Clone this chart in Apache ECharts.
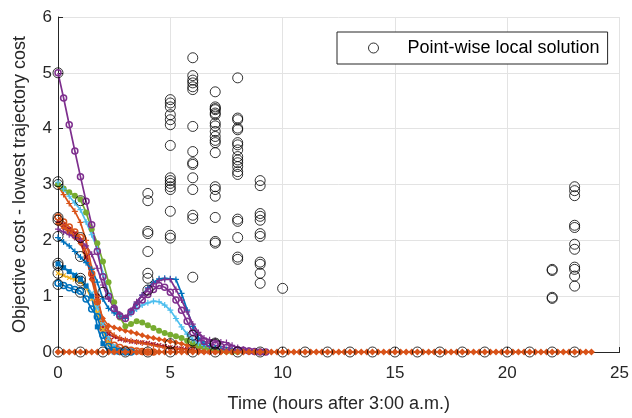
<!DOCTYPE html>
<html>
<head>
<meta charset="utf-8">
<script src="https://cdn.jsdelivr.net/npm/echarts@6/dist/echarts.min.js"></script>
<style>
  html, body { margin: 0; padding: 0; background: #fff; }
  #chart { width: 632px; height: 418px; }
</style>
</head>
<body>
<div id="chart"></div>
<script>
// Time grid of the trajectory optimisation (hours after 3:00 a.m.)
const hours = [
  0,0.25,0.5,0.75,1,1.25,1.5,1.75,2,2.25,2.5,2.75,3,3.25,3.5,3.75,4,4.25,4.5,4.75,5,5.25,5.5,5.75,
  6,6.25,6.5,6.75,7,7.25,7.5,7.75,8,8.25,8.5,8.75,9,9.25,9.5,9.75,10,10.25,10.5,10.75,11,11.25,11.5,11.75,
  12,12.25,12.5,12.75,13,13.25,13.5,13.75,14,14.25,14.5,14.75,15,15.25,15.5,15.75,16,16.25,16.5,16.75,17,17.25,17.5,17.75,
  18,18.25,18.5,18.75,19,19.25,19.5,19.75,20,20.25,20.5,20.75,21,21.25,21.5,21.75,22,22.25,22.5,22.75,23,23.25,23.5,23.75
];

// Cost gap of each trajectory run, one value per time step (runs end once they reach zero)
const runPurpleCircle = [5.0,4.55,4.07,3.6,3.14,2.7,2.28,1.8,1.35,1.0,0.78,0.65,0.6,0.72,0.83,0.93,1.03,1.12,1.19,1.16,1.07,0.93,0.75,0.55,0.35,0.25,0.19,0.15,0.12,0.1,0.08,0.06,0.04,0.03,0.02,0.01,0,0];
const runPurplePlus   = [2.2,2.15,2.1,2.05,2.0,1.9,1.75,1.5,1.2,0.95,0.8,0.68,0.62,0.75,0.9,1.02,1.13,1.22,1.28,1.3,1.3,1.12,0.93,0.72,0.5,0.35,0.25,0.22,0.2,0.18,0.17,0.12,0.08,0.05,0.03,0.02,0.01,0,0];
const runBlueHump     = [2.05,1.97,1.9,1.8,1.7,1.6,1.48,1.25,0.95,0.78,0.7,0.64,0.6,0.72,0.88,1.02,1.15,1.25,1.31,1.32,1.31,1.3,1.05,0.75,0.46,0.25,0.15,0.1,0.07,0.05,0.04,0.03,0.02,0.01,0,0];
const runCyanPlus     = [3.04,2.92,2.79,2.67,2.55,2.33,2.1,1.85,1.4,1.05,0.8,0.66,0.6,0.68,0.77,0.84,0.88,0.91,0.9,0.84,0.75,0.6,0.45,0.32,0.22,0.16,0.12,0.09,0.07,0.05,0.04,0.03,0.02,0.01,0,0];
const runGreenDot     = [3.0,2.93,2.86,2.8,2.73,2.5,2.2,1.95,1.62,1.25,0.89,0.62,0.46,0.5,0.55,0.53,0.48,0.43,0.38,0.34,0.31,0.28,0.25,0.2,0.15,0.11,0.08,0.05,0.03,0.02,0.01,0,0];
const runOrangeStar   = [2.98,2.82,2.66,2.52,2.32,2.0,1.5,1.0,0.55,0.38,0.3,0.25,0.22,0.2,0.18,0.16,0.14,0.12,0.1,0.08,0.07,0.06,0.05,0.04,0.03,0.02,0.01,0,0];
const runOrangeCircle = [2.42,2.33,2.24,2.15,2.05,1.8,1.4,0.9,0.42,0.2,0.12,0.08,0.05,0.03,0.02,0.01,0,0];
const runDarkRed      = [2.35,2.28,2.2,2.12,2.0,1.7,1.35,1.0,0.45,0.32,0.27,0.23,0.21,0.19,0.18,0.17,0.16,0.14,0.12,0.1,0.08,0.07,0.06,0.05,0.03,0.02,0.01,0,0];
const runOrangeDiam   = [2.3,2.22,2.14,2.05,1.95,1.7,1.3,0.9,0.6,0.47,0.44,0.41,0.38,0.36,0.33,0.3,0.27,0.25,0.23,0.21,0.19,0.17,0.15,0.12,0.1,0.08,0.07,0.06,0.05,0.04,0.03,0.02,0.01,0,0];
const runBlueCircle   = [1.23,1.19,1.15,1.12,1.09,0.95,0.77,0.63,0.3,0.1,0.03,0.01,0,0];
const runBlueSquare   = [1.58,1.51,1.44,1.37,1.3,1.18,1.0,0.45,0.15,0.03,0,0];
const runCyanCross    = [1.57,1.51,1.45,1.39,1.33,1.2,1.05,0.8,0.5,0.25,0.1,0.04,0.01,0,0];
const runYellowStar   = [1.41,1.37,1.33,1.3,1.26,1.15,0.95,0.7,0.4,0.15,0.05,0.01,0,0];
const runSettled = [
  0,0,0,0,0,0,0,0,0,0,0,0,0,0,0,0,0,0,0,0,0,0,0,0,
  0,0,0,0,0,0,0,0,0,0,0,0,0,0,0,0,0,0,0,0,0,0,0,0,
  0,0,0,0,0,0,0,0,0,0,0,0,0,0,0,0,0,0,0,0,0,0,0,0,
  0,0,0,0,0,0,0,0,0,0,0,0,0,0,0,0,0,0,0,0,0,0,0,0
];

// Point-wise local solutions: start hour and the cost gaps found there
const solutionHours = [0,1,2,3,4,5,6,7,8,9,10,11,12,13,14,15,16,17,18,19,20,21,22,23];
const solutionCosts = [
  [0,5.0,3.05,3.0,2.41,2.36,2.07,1.59,1.55,1.41,1.21],
  [0,2.71,2.05,1.71,1.32,1.27,1.07],
  [0,1.07],
  [0],
  [0,2.84,2.71,2.16,2.12,1.8,1.41,1.32,1.11],
  [0,0.15,4.52,4.46,4.39,4.25,4.16,4.07,3.7,3.12,3.07,3.02,2.96,2.91,2.52,2.09,2.04],
  [0,0.2,0.3,1.34,5.27,4.95,4.87,4.82,4.75,4.7,4.04,3.59,3.39,3.36,3.12,2.91,2.45,2.39],
  [0,0.14,0.16,4.66,4.39,4.36,4.34,4.28,4.25,4.1,4.05,3.95,3.86,3.79,3.75,3.57,2.96,2.91,2.79,2.41,1.98,1.95],
  [0,4.91,4.19,4.16,4.01,3.98,3.75,3.71,3.62,3.5,3.44,3.39,3.32,3.23,3.18,2.38,2.34,2.05,1.7,1.66],
  [0,3.07,2.98,2.48,2.43,2.36,2.12,2.07,1.61,1.57,1.41,1.23],
  [0,1.14],
  [0],[0],[0],[0],[0],[0],[0],[0],[0],[0],[0],
  [0,1.48,1.46,0.98,0.96],
  [0,2.96,2.89,2.8,2.27,2.23,1.93,1.84,1.52,1.48,1.36,1.18]
];

const legendName = 'Point-wise local solution';
const FONT = '"Liberation Sans", Arial, Helvetica, sans-serif';
const AX = '#262626';

const PLUS = 'path://M4,0H6V4H10V6H6V10H4V6H0V4H4Z';

function pairs(values) {
  return values.map((v, i) => [hours[i], v]);
}

function run(values, color, symbol, opts) {
  opts = opts || {};
  const hollow = symbol === 'hollow';
  return {
    type: 'line',
    data: pairs(values),
    symbol: hollow ? 'circle' : symbol,
    symbolSize: opts.size || 5,
    symbolRotate: opts.rotate || 0,
    showSymbol: true,
    showAllSymbol: true,
    silent: true,
    animation: false,
    lineStyle: { color: color, width: 1.7, type: opts.dash ? 'dashed' : 'solid' },
    itemStyle: hollow
      ? { color: 'rgba(0,0,0,0)', borderColor: color, borderWidth: 1.5 }
      : { color: color, borderWidth: 0 },
    z: opts.z || 2
  };
}

const scatterData = [];
solutionHours.forEach((h, i) => {
  solutionCosts[i].forEach(c => scatterData.push([h, c]));
});

const chart = echarts.init(document.getElementById('chart'), null, { renderer: 'canvas' });

chart.setOption({
  animation: false,
  backgroundColor: '#fff',
  textStyle: { fontFamily: FONT },
  grid: { left: 58, right: 11, top: 17, bottom: 65, containLabel: false },
  legend: {
    left: 337,
    top: 32,
    padding: [7, 8, 7, 31],
    itemWidth: 58,
    itemHeight: 10,
    borderColor: AX,
    borderWidth: 1,
    borderRadius: 0,
    backgroundColor: '#fff',
    selectedMode: false,
    data: [{ name: legendName, icon: 'circle',
             itemStyle: { color: 'rgba(0,0,0,0)', borderColor: '#000', borderWidth: 1 } }],
    textStyle: { fontSize: 18, color: '#000', fontFamily: FONT, padding: [0, 0, 0, 0] }
  },
  xAxis: {
    type: 'value',
    min: 0, max: 25, interval: 5,
    name: 'Time (hours after 3:00 a.m.)',
    nameLocation: 'middle',
    nameGap: 43,
    nameTextStyle: { fontSize: 18, color: AX, fontFamily: FONT },
    axisLine: { show: true, onZero: false, lineStyle: { color: AX, width: 1 } },
    axisTick: { show: true, inside: true, length: 5, lineStyle: { color: AX } },
    axisLabel: { fontSize: 17, color: AX, margin: 13, fontFamily: FONT },
    splitLine: { show: true, lineStyle: { color: '#e3e3e3', width: 1 } }
  },
  yAxis: {
    type: 'value',
    min: 0, max: 6, interval: 1,
    name: 'Objective cost - lowest trajectory cost',
    nameLocation: 'middle',
    nameGap: 29,
    nameTextStyle: { fontSize: 18, color: AX, fontFamily: FONT },
    axisLine: { show: true, onZero: false, lineStyle: { color: AX, width: 1 } },
    axisTick: { show: true, inside: true, length: 5, lineStyle: { color: AX } },
    axisLabel: { fontSize: 17, color: AX, margin: 6, fontFamily: FONT },
    splitLine: { show: true, lineStyle: { color: '#e3e3e3', width: 1 } }
  },
  series: [
    run(runOrangeDiam, '#D95319', 'diamond', { size: 6 }),
    run(runDarkRed, '#A2142F', PLUS, { size: 6, rotate: 45 }),
    run(runOrangeCircle, '#D95319', 'hollow', { size: 6 }),
    run(runOrangeStar, '#D95319', PLUS, { size: 6 }),
    run(runGreenDot, '#77AC30', 'circle', { size: 6 }),
    run(runCyanPlus, '#4DBEEE', PLUS, { size: 6 }),
    run(runBlueHump, '#0072BD', PLUS, { size: 6 }),
    run(runPurplePlus, '#7E2F8E', PLUS, { size: 6 }),
    run(runPurpleCircle, '#7E2F8E', 'hollow', { size: 6 }),
    run(runYellowStar, '#EDB120', PLUS, { size: 6, rotate: 45 }),
    run(runCyanCross, '#4DBEEE', PLUS, { size: 6, rotate: 45 }),
    run(runBlueSquare, '#0072BD', 'rect', { size: 5 }),
    run(runBlueCircle, '#0072BD', 'hollow', { size: 6 }),
    run(runSettled, '#0072BD', 'none', { dash: true, z: 3 }),
    run(runSettled, '#D95319', 'diamond', { size: 7, z: 3 }),
    {
      name: legendName,
      type: 'scatter',
      data: scatterData,
      symbol: 'circle',
      symbolSize: 10,
      silent: true,
      animation: false,
      itemStyle: { color: 'rgba(0,0,0,0)', borderColor: '#000', borderWidth: 1 },
      z: 5
    }
  ]
});
</script>
</body>
</html>
